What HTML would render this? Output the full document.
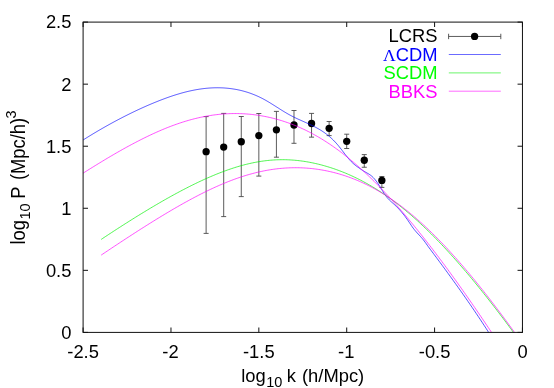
<!DOCTYPE html>
<html><head><meta charset="utf-8"><title>Power spectrum</title>
<style>
html,body{margin:0;padding:0;background:#fff;}
body{width:554px;height:388px;overflow:hidden;font-family:"Liberation Sans",sans-serif;}
svg{display:block;will-change:transform;}
</style></head><body>
<svg width="554" height="388" viewBox="0 0 554 388">
<rect width="554" height="388" fill="#fff"/>
<path fill="none" stroke="#4a4a4a" stroke-width="0.9" d="M206.12 116.60 V233.40 M203.62 116.60 H208.62 M203.62 233.40 H208.62 M223.69 113.40 V216.60 M221.19 113.40 H226.19 M221.19 216.60 H226.19 M241.27 116.50 V196.60 M238.77 116.50 H243.77 M238.77 196.60 H243.77 M258.84 113.50 V176.10 M256.34 113.50 H261.34 M256.34 176.10 H261.34 M276.41 111.40 V157.20 M273.91 111.40 H278.91 M273.91 157.20 H278.91 M293.99 110.50 V143.30 M291.49 110.50 H296.49 M291.49 143.30 H296.49 M311.56 113.40 V137.15 M309.06 113.40 H314.06 M309.06 137.15 H314.06 M329.14 121.50 V135.60 M326.64 121.50 H331.64 M326.64 135.60 H331.64 M346.71 134.20 V148.50 M344.21 134.20 H349.21 M344.21 148.50 H349.21 M364.28 154.60 V167.25 M361.78 154.60 H366.78 M361.78 167.25 H366.78 M381.86 176.50 V187.40 M379.36 176.50 H384.36 M379.36 187.40 H384.36 M448.60 36.45 H500.80 M448.60 33.75 V39.15 M500.80 33.75 V39.15"/>
<circle cx="206.12" cy="151.65" r="3.65" fill="#000"/>
<circle cx="223.69" cy="147.05" r="3.65" fill="#000"/>
<circle cx="241.27" cy="141.75" r="3.65" fill="#000"/>
<circle cx="258.84" cy="135.55" r="3.65" fill="#000"/>
<circle cx="276.41" cy="129.80" r="3.65" fill="#000"/>
<circle cx="293.99" cy="125.00" r="3.65" fill="#000"/>
<circle cx="311.56" cy="123.50" r="3.65" fill="#000"/>
<circle cx="329.14" cy="128.30" r="3.65" fill="#000"/>
<circle cx="346.71" cy="141.30" r="3.65" fill="#000"/>
<circle cx="364.28" cy="160.25" r="3.65" fill="#000"/>
<circle cx="381.86" cy="180.40" r="3.65" fill="#000"/>
<circle cx="474.6" cy="36.4" r="3.65" fill="#000"/>
<g fill="none" stroke-width="1.0" stroke-opacity="0.68" stroke-linejoin="round">
<path stroke="#0000ff" d="M83.25 139.88 L84.25 139.25 L85.25 138.63 L86.25 138.00 L87.25 137.38 L88.25 136.77 L89.25 136.15 L90.25 135.54 L91.25 134.93 L92.25 134.33 L93.25 133.72 L94.25 133.12 L95.25 132.53 L96.25 131.93 L97.25 131.34 L98.25 130.75 L99.25 130.17 L100.25 129.59 L101.25 129.01 L102.25 128.43 L103.25 127.86 L104.25 127.29 L105.25 126.72 L106.25 126.16 L107.25 125.60 L108.25 125.04 L109.25 124.48 L110.25 123.93 L111.25 123.38 L112.25 122.83 L113.25 122.29 L114.25 121.75 L115.25 121.21 L116.25 120.68 L117.25 120.15 L118.25 119.62 L119.25 119.09 L120.25 118.57 L121.25 118.05 L122.25 117.53 L123.25 117.02 L124.25 116.51 L125.25 116.00 L126.25 115.50 L127.25 115.00 L128.25 114.50 L129.25 114.00 L130.25 113.51 L131.25 113.02 L132.25 112.54 L133.25 112.05 L134.25 111.57 L135.25 111.10 L136.25 110.62 L137.25 110.15 L138.25 109.69 L139.25 109.23 L140.25 108.77 L141.25 108.31 L142.25 107.85 L143.25 107.40 L144.25 106.96 L145.25 106.51 L146.25 106.07 L147.25 105.64 L148.25 105.20 L149.25 104.77 L150.25 104.35 L151.25 103.92 L152.25 103.51 L153.25 103.09 L154.25 102.68 L155.25 102.27 L156.25 101.86 L157.25 101.46 L158.25 101.06 L159.25 100.67 L160.25 100.28 L161.25 99.89 L162.25 99.51 L163.25 99.13 L164.25 98.76 L165.25 98.39 L166.25 98.02 L167.25 97.66 L168.25 97.31 L169.25 96.95 L170.25 96.61 L171.25 96.27 L172.25 95.93 L173.25 95.60 L174.25 95.28 L175.25 94.96 L176.25 94.65 L177.25 94.34 L178.25 94.04 L179.25 93.74 L180.25 93.45 L181.25 93.17 L182.25 92.89 L183.25 92.62 L184.25 92.35 L185.25 92.09 L186.25 91.84 L187.25 91.59 L188.25 91.35 L189.25 91.12 L190.25 90.90 L191.25 90.68 L192.25 90.47 L193.25 90.27 L194.25 90.07 L195.25 89.88 L196.25 89.70 L197.25 89.52 L198.25 89.36 L199.25 89.20 L200.25 89.05 L201.25 88.91 L202.25 88.77 L203.25 88.65 L204.25 88.53 L205.25 88.42 L206.25 88.31 L207.25 88.22 L208.25 88.14 L209.25 88.06 L210.25 87.99 L211.25 87.93 L212.25 87.88 L213.25 87.84 L214.25 87.81 L215.25 87.78 L216.25 87.77 L217.25 87.76 L218.25 87.77 L219.25 87.78 L220.25 87.80 L221.25 87.83 L222.25 87.87 L223.25 87.92 L224.25 87.98 L225.25 88.05 L226.25 88.13 L227.25 88.22 L228.25 88.32 L229.25 88.43 L230.25 88.55 L231.25 88.68 L232.25 88.82 L233.25 88.97 L234.25 89.13 L235.25 89.30 L236.25 89.48 L237.25 89.67 L238.25 89.88 L239.25 90.09 L240.25 90.32 L241.25 90.56 L242.25 90.81 L243.25 91.07 L244.25 91.34 L245.25 91.63 L246.25 91.93 L247.25 92.23 L248.25 92.56 L249.25 92.89 L250.25 93.24 L251.25 93.60 L252.25 93.97 L253.25 94.36 L254.25 94.76 L255.25 95.17 L256.25 95.59 L257.25 96.03 L258.25 96.49 L259.25 96.95 L260.25 97.44 L261.25 97.93 L262.25 98.44 L263.25 98.96 L264.25 99.50 L265.25 100.05 L266.25 100.62 L267.25 101.20 L268.25 101.79 L269.25 102.38 L270.25 102.99 L271.25 103.61 L272.25 104.23 L273.25 104.86 L274.25 105.49 L275.25 106.12 L276.25 106.76 L277.25 107.39 L278.25 108.03 L279.25 108.67 L280.25 109.30 L281.25 109.93 L282.25 110.55 L283.25 111.17 L284.25 111.78 L285.25 112.39 L286.25 112.98 L287.25 113.56 L288.25 114.14 L289.25 114.69 L290.25 115.24 L291.25 115.77 L292.25 116.29 L293.25 116.79 L294.25 117.29 L295.25 117.77 L296.25 118.25 L297.25 118.72 L298.25 119.18 L299.25 119.63 L300.25 120.08 L301.25 120.53 L302.25 120.98 L303.25 121.42 L304.25 121.87 L305.25 122.32 L306.25 122.76 L307.25 123.22 L308.25 123.67 L309.25 124.14 L310.25 124.61 L311.25 125.08 L312.25 125.57 L313.25 126.07 L314.25 126.58 L315.25 127.10 L316.25 127.63 L317.25 128.18 L318.25 128.74 L319.25 129.33 L320.25 129.92 L321.25 130.54 L322.25 131.18 L323.25 131.85 L324.25 132.53 L325.25 133.25 L326.25 133.99 L327.25 134.75 L328.25 135.55 L329.25 136.38 L330.25 137.25 L331.25 138.14 L332.25 139.08 L333.25 140.05 L334.25 141.06 L335.25 142.12 L336.25 143.21 L337.25 144.35 L338.25 145.53 L339.25 146.76 L340.25 148.01 L341.25 149.29 L342.25 150.59 L343.25 151.90 L344.25 153.20 L345.25 154.50 L346.25 155.78 L347.25 157.03 L348.25 158.24 L349.25 159.42 L350.25 160.54 L351.25 161.61 L352.25 162.60 L353.25 163.53 L354.25 164.39 L355.25 165.20 L356.25 165.97 L357.25 166.70 L358.25 167.42 L359.25 168.11 L360.25 168.81 L361.25 169.49 L362.25 170.16 L363.25 170.80 L364.25 171.41 L365.25 171.99 L366.25 172.55 L367.25 173.11 L368.25 173.69 L369.25 174.31 L370.25 174.99 L371.25 175.76 L372.25 176.62 L373.25 177.60 L374.25 178.68 L375.25 179.87 L376.25 181.15 L377.25 182.52 L378.25 183.97 L379.25 185.50 L380.25 187.09 L381.25 188.72 L382.25 190.36 L383.25 191.98 L384.25 193.55 L385.25 195.05 L386.25 196.44 L387.25 197.70 L388.25 198.84 L389.25 199.88 L390.25 200.85 L391.25 201.77 L392.25 202.66 L393.25 203.54 L394.25 204.45 L395.25 205.38 L396.25 206.34 L397.25 207.34 L398.25 208.37 L399.25 209.44 L400.25 210.54 L401.25 211.68 L402.25 212.86 L403.25 214.09 L404.25 215.35 L405.25 216.67 L406.25 218.02 L407.25 219.43 L408.25 220.88 L409.25 222.38 L410.25 223.89 L411.25 225.38 L412.25 226.84 L413.25 228.22 L414.25 229.52 L415.25 230.74 L416.25 231.89 L417.25 233.00 L418.25 234.09 L419.25 235.17 L420.25 236.25 L421.25 237.36 L422.25 238.51 L423.25 239.72 L424.25 241.01 L425.25 242.38 L426.25 243.79 L427.25 245.22 L428.25 246.62 L429.25 247.98 L430.25 249.32 L431.25 250.65 L432.25 251.99 L433.25 253.32 L434.25 254.66 L435.25 256.01 L436.25 257.35 L437.25 258.70 L438.25 260.05 L439.25 261.40 L440.25 262.75 L441.25 264.10 L442.25 265.46 L443.25 266.82 L444.25 268.18 L445.25 269.54 L446.25 270.91 L447.25 272.28 L448.25 273.65 L449.25 275.02 L450.25 276.40 L451.25 277.78 L452.25 279.16 L453.25 280.55 L454.25 281.94 L455.25 283.33 L456.25 284.72 L457.25 286.12 L458.25 287.53 L459.25 288.93 L460.25 290.34 L461.25 291.76 L462.25 293.17 L463.25 294.60 L464.25 296.02 L465.25 297.45 L466.25 298.89 L467.25 300.33 L468.25 301.77 L469.25 303.22 L470.25 304.67 L471.25 306.13 L472.25 307.59 L473.25 309.06 L474.25 310.53 L475.25 312.01 L476.25 313.50 L477.25 314.98 L478.25 316.48 L479.25 317.98 L480.25 319.48 L481.25 321.00 L482.25 322.51 L483.25 324.04 L484.25 325.57 L485.25 327.10 L486.25 328.64 L487.25 330.19 L488.25 331.75 L488.70 332.45"/>
<path stroke="#00f000" d="M101.20 239.41 L102.70 238.41 L104.20 237.42 L105.70 236.43 L107.20 235.44 L108.70 234.45 L110.20 233.47 L111.70 232.49 L113.20 231.51 L114.70 230.53 L116.20 229.56 L117.70 228.59 L119.20 227.62 L120.70 226.66 L122.20 225.69 L123.70 224.73 L125.20 223.78 L126.70 222.83 L128.20 221.88 L129.70 220.93 L131.20 219.99 L132.70 219.05 L134.20 218.11 L135.70 217.17 L137.20 216.24 L138.70 215.32 L140.20 214.39 L141.70 213.47 L143.20 212.56 L144.70 211.65 L146.20 210.74 L147.70 209.83 L149.20 208.93 L150.70 208.03 L152.20 207.14 L153.70 206.25 L155.20 205.37 L156.70 204.49 L158.20 203.61 L159.70 202.74 L161.20 201.87 L162.70 201.01 L164.20 200.15 L165.70 199.30 L167.20 198.45 L168.70 197.61 L170.20 196.77 L171.70 195.94 L173.20 195.12 L174.70 194.30 L176.20 193.48 L177.70 192.67 L179.20 191.87 L180.70 191.07 L182.20 190.28 L183.70 189.49 L185.20 188.72 L186.70 187.94 L188.20 187.18 L189.70 186.42 L191.20 185.67 L192.70 184.92 L194.20 184.19 L195.70 183.46 L197.20 182.73 L198.70 182.02 L200.20 181.31 L201.70 180.61 L203.20 179.92 L204.70 179.24 L206.20 178.57 L207.70 177.90 L209.20 177.25 L210.70 176.60 L212.20 175.96 L213.70 175.33 L215.20 174.71 L216.70 174.10 L218.20 173.50 L219.70 172.91 L221.20 172.33 L222.70 171.77 L224.20 171.21 L225.70 170.66 L227.20 170.12 L228.70 169.59 L230.20 169.08 L231.70 168.58 L233.20 168.08 L234.70 167.61 L236.20 167.14 L237.70 166.68 L239.20 166.24 L240.70 165.81 L242.20 165.40 L243.70 164.99 L245.20 164.60 L246.70 164.23 L248.20 163.87 L249.70 163.52 L251.20 163.18 L252.70 162.86 L254.20 162.56 L255.70 162.27 L257.20 161.99 L258.70 161.73 L260.20 161.49 L261.70 161.26 L263.20 161.04 L264.70 160.84 L266.20 160.66 L267.70 160.49 L269.20 160.34 L270.70 160.20 L272.20 160.08 L273.70 159.97 L275.20 159.89 L276.70 159.81 L278.20 159.76 L279.70 159.72 L281.20 159.70 L282.70 159.69 L284.20 159.70 L285.70 159.73 L287.20 159.78 L288.70 159.83 L290.20 159.91 L291.70 160.00 L293.20 160.11 L294.70 160.23 L296.20 160.37 L297.70 160.52 L299.20 160.69 L300.70 160.88 L302.20 161.08 L303.70 161.29 L305.20 161.52 L306.70 161.77 L308.20 162.03 L309.70 162.31 L311.20 162.60 L312.70 162.90 L314.20 163.22 L315.70 163.55 L317.20 163.90 L318.70 164.26 L320.20 164.64 L321.70 165.03 L323.20 165.44 L324.70 165.86 L326.20 166.29 L327.70 166.74 L329.20 167.20 L330.70 167.67 L332.20 168.16 L333.70 168.67 L335.20 169.18 L336.70 169.72 L338.20 170.26 L339.70 170.82 L341.20 171.40 L342.70 171.99 L344.20 172.59 L345.70 173.21 L347.20 173.85 L348.70 174.49 L350.20 175.16 L351.70 175.83 L353.20 176.53 L354.70 177.24 L356.20 177.96 L357.70 178.70 L359.20 179.45 L360.70 180.22 L362.20 181.00 L363.70 181.80 L365.20 182.62 L366.70 183.45 L368.20 184.30 L369.70 185.16 L371.20 186.03 L372.70 186.93 L374.20 187.84 L375.70 188.76 L377.20 189.70 L378.70 190.66 L380.20 191.63 L381.70 192.62 L383.20 193.62 L384.70 194.64 L386.20 195.68 L387.70 196.73 L389.20 197.80 L390.70 198.88 L392.20 199.98 L393.70 201.09 L395.20 202.22 L396.70 203.37 L398.20 204.53 L399.70 205.71 L401.20 206.90 L402.70 208.11 L404.20 209.33 L405.70 210.57 L407.20 211.83 L408.70 213.10 L410.20 214.38 L411.70 215.68 L413.20 217.00 L414.70 218.33 L416.20 219.67 L417.70 221.03 L419.20 222.40 L420.70 223.79 L422.20 225.19 L423.70 226.60 L425.20 228.03 L426.70 229.48 L428.20 230.94 L429.70 232.41 L431.20 233.89 L432.70 235.39 L434.20 236.90 L435.70 238.42 L437.20 239.96 L438.70 241.51 L440.20 243.07 L441.70 244.65 L443.20 246.24 L444.70 247.84 L446.20 249.45 L447.70 251.08 L449.20 252.71 L450.70 254.36 L452.20 256.02 L453.70 257.70 L455.20 259.38 L456.70 261.07 L458.20 262.78 L459.70 264.50 L461.20 266.23 L462.70 267.97 L464.20 269.72 L465.70 271.48 L467.20 273.25 L468.70 275.03 L470.20 276.82 L471.70 278.62 L473.20 280.43 L474.70 282.25 L476.20 284.09 L477.70 285.93 L479.20 287.78 L480.70 289.64 L482.20 291.51 L483.70 293.38 L485.20 295.27 L486.70 297.17 L488.20 299.07 L489.70 300.99 L491.20 302.91 L492.70 304.84 L494.20 306.78 L495.70 308.73 L497.20 310.68 L498.70 312.65 L500.20 314.62 L501.70 316.60 L503.20 318.59 L504.70 320.59 L506.20 322.59 L507.70 324.60 L509.20 326.62 L510.70 328.65 L512.20 330.68 L513.50 332.45"/>
<path stroke="#ff00ff" d="M83.25 173.09 L84.75 172.14 L86.25 171.19 L87.75 170.25 L89.25 169.31 L90.75 168.37 L92.25 167.44 L93.75 166.51 L95.25 165.58 L96.75 164.66 L98.25 163.74 L99.75 162.82 L101.25 161.91 L102.75 161.00 L104.25 160.10 L105.75 159.20 L107.25 158.31 L108.75 157.42 L110.25 156.53 L111.75 155.65 L113.25 154.77 L114.75 153.90 L116.25 153.03 L117.75 152.17 L119.25 151.32 L120.75 150.47 L122.25 149.62 L123.75 148.78 L125.25 147.95 L126.75 147.12 L128.25 146.30 L129.75 145.49 L131.25 144.68 L132.75 143.88 L134.25 143.09 L135.75 142.30 L137.25 141.52 L138.75 140.75 L140.25 139.98 L141.75 139.22 L143.25 138.47 L144.75 137.73 L146.25 137.00 L147.75 136.27 L149.25 135.55 L150.75 134.85 L152.25 134.15 L153.75 133.46 L155.25 132.77 L156.75 132.10 L158.25 131.44 L159.75 130.79 L161.25 130.14 L162.75 129.51 L164.25 128.89 L165.75 128.28 L167.25 127.67 L168.75 127.08 L170.25 126.50 L171.75 125.93 L173.25 125.38 L174.75 124.83 L176.25 124.29 L177.75 123.77 L179.25 123.26 L180.75 122.76 L182.25 122.27 L183.75 121.79 L185.25 121.33 L186.75 120.88 L188.25 120.44 L189.75 120.01 L191.25 119.60 L192.75 119.20 L194.25 118.81 L195.75 118.44 L197.25 118.08 L198.75 117.73 L200.25 117.40 L201.75 117.08 L203.25 116.77 L204.75 116.48 L206.25 116.20 L207.75 115.93 L209.25 115.68 L210.75 115.44 L212.25 115.21 L213.75 115.00 L215.25 114.81 L216.75 114.63 L218.25 114.46 L219.75 114.30 L221.25 114.16 L222.75 114.04 L224.25 113.93 L225.75 113.83 L227.25 113.75 L228.75 113.68 L230.25 113.62 L231.75 113.59 L233.25 113.56 L234.75 113.55 L236.25 113.55 L237.75 113.57 L239.25 113.60 L240.75 113.65 L242.25 113.71 L243.75 113.79 L245.25 113.88 L246.75 113.99 L248.25 114.11 L249.75 114.24 L251.25 114.39 L252.75 114.56 L254.25 114.74 L255.75 114.93 L257.25 115.14 L258.75 115.37 L260.25 115.61 L261.75 115.86 L263.25 116.13 L264.75 116.41 L266.25 116.71 L267.75 117.03 L269.25 117.36 L270.75 117.70 L272.25 118.06 L273.75 118.44 L275.25 118.83 L276.75 119.24 L278.25 119.66 L279.75 120.10 L281.25 120.55 L282.75 121.02 L284.25 121.51 L285.75 122.01 L287.25 122.53 L288.75 123.06 L290.25 123.61 L291.75 124.18 L293.25 124.76 L294.75 125.36 L296.25 125.98 L297.75 126.61 L299.25 127.26 L300.75 127.93 L302.25 128.61 L303.75 129.31 L305.25 130.03 L306.75 130.76 L308.25 131.51 L309.75 132.28 L311.25 133.07 L312.75 133.87 L314.25 134.69 L315.75 135.52 L317.25 136.38 L318.75 137.25 L320.25 138.14 L321.75 139.05 L323.25 139.97 L324.75 140.91 L326.25 141.87 L327.75 142.85 L329.25 143.84 L330.75 144.85 L332.25 145.88 L333.75 146.92 L335.25 147.99 L336.75 149.07 L338.25 150.17 L339.75 151.28 L341.25 152.41 L342.75 153.56 L344.25 154.73 L345.75 155.91 L347.25 157.11 L348.75 158.33 L350.25 159.56 L351.75 160.81 L353.25 162.08 L354.75 163.36 L356.25 164.66 L357.75 165.98 L359.25 167.31 L360.75 168.66 L362.25 170.02 L363.75 171.40 L365.25 172.80 L366.75 174.21 L368.25 175.63 L369.75 177.08 L371.25 178.53 L372.75 180.00 L374.25 181.49 L375.75 182.99 L377.25 184.51 L378.75 186.04 L380.25 187.58 L381.75 189.14 L383.25 190.71 L384.75 192.30 L386.25 193.90 L387.75 195.51 L389.25 197.14 L390.75 198.78 L392.25 200.43 L393.75 202.10 L395.25 203.78 L396.75 205.47 L398.25 207.17 L399.75 208.89 L401.25 210.62 L402.75 212.36 L404.25 214.11 L405.75 215.87 L407.25 217.65 L408.75 219.44 L410.25 221.24 L411.75 223.05 L413.25 224.87 L414.75 226.70 L416.25 228.54 L417.75 230.39 L419.25 232.26 L420.75 234.13 L422.25 236.02 L423.75 237.91 L425.25 239.81 L426.75 241.73 L428.25 243.65 L429.75 245.59 L431.25 247.53 L432.75 249.48 L434.25 251.45 L435.75 253.42 L437.25 255.40 L438.75 257.39 L440.25 259.39 L441.75 261.39 L443.25 263.41 L444.75 265.43 L446.25 267.47 L447.75 269.51 L449.25 271.56 L450.75 273.62 L452.25 275.68 L453.75 277.76 L455.25 279.84 L456.75 281.93 L458.25 284.03 L459.75 286.13 L461.25 288.24 L462.75 290.36 L464.25 292.49 L465.75 294.63 L467.25 296.77 L468.75 298.92 L470.25 301.08 L471.75 303.24 L473.25 305.41 L474.75 307.59 L476.25 309.77 L477.75 311.96 L479.25 314.16 L480.75 316.36 L482.25 318.58 L483.75 320.79 L485.25 323.02 L486.75 325.25 L488.25 327.48 L489.75 329.73 L491.25 331.97 L491.57 332.45"/>
<path stroke="#ff00ff" d="M101.20 255.10 L102.70 254.10 L104.20 253.09 L105.70 252.09 L107.20 251.08 L108.70 250.08 L110.20 249.08 L111.70 248.09 L113.20 247.09 L114.70 246.09 L116.20 245.10 L117.70 244.11 L119.20 243.12 L120.70 242.13 L122.20 241.15 L123.70 240.16 L125.20 239.18 L126.70 238.20 L128.20 237.22 L129.70 236.25 L131.20 235.27 L132.70 234.30 L134.20 233.33 L135.70 232.37 L137.20 231.40 L138.70 230.44 L140.20 229.48 L141.70 228.53 L143.20 227.58 L144.70 226.63 L146.20 225.68 L147.70 224.73 L149.20 223.79 L150.70 222.85 L152.20 221.92 L153.70 220.99 L155.20 220.06 L156.70 219.14 L158.20 218.22 L159.70 217.30 L161.20 216.39 L162.70 215.48 L164.20 214.57 L165.70 213.67 L167.20 212.77 L168.70 211.88 L170.20 210.99 L171.70 210.11 L173.20 209.23 L174.70 208.36 L176.20 207.49 L177.70 206.63 L179.20 205.77 L180.70 204.92 L182.20 204.07 L183.70 203.23 L185.20 202.40 L186.70 201.57 L188.20 200.75 L189.70 199.93 L191.20 199.12 L192.70 198.32 L194.20 197.52 L195.70 196.73 L197.20 195.95 L198.70 195.17 L200.20 194.40 L201.70 193.64 L203.20 192.89 L204.70 192.15 L206.20 191.41 L207.70 190.68 L209.20 189.96 L210.70 189.25 L212.20 188.55 L213.70 187.85 L215.20 187.17 L216.70 186.49 L218.20 185.83 L219.70 185.17 L221.20 184.53 L222.70 183.89 L224.20 183.26 L225.70 182.65 L227.20 182.04 L228.70 181.45 L230.20 180.86 L231.70 180.29 L233.20 179.73 L234.70 179.18 L236.20 178.64 L237.70 178.11 L239.20 177.60 L240.70 177.09 L242.20 176.60 L243.70 176.12 L245.20 175.65 L246.70 175.20 L248.20 174.75 L249.70 174.32 L251.20 173.91 L252.70 173.50 L254.20 173.11 L255.70 172.73 L257.20 172.37 L258.70 172.01 L260.20 171.68 L261.70 171.35 L263.20 171.04 L264.70 170.74 L266.20 170.46 L267.70 170.19 L269.20 169.93 L270.70 169.69 L272.20 169.46 L273.70 169.24 L275.20 169.04 L276.70 168.85 L278.20 168.68 L279.70 168.52 L281.20 168.38 L282.70 168.25 L284.20 168.13 L285.70 168.03 L287.20 167.94 L288.70 167.87 L290.20 167.81 L291.70 167.77 L293.20 167.74 L294.70 167.72 L296.20 167.72 L297.70 167.73 L299.20 167.76 L300.70 167.80 L302.20 167.86 L303.70 167.93 L305.20 168.02 L306.70 168.12 L308.20 168.24 L309.70 168.37 L311.20 168.51 L312.70 168.67 L314.20 168.85 L315.70 169.04 L317.20 169.24 L318.70 169.46 L320.20 169.69 L321.70 169.94 L323.20 170.21 L324.70 170.49 L326.20 170.78 L327.70 171.09 L329.20 171.41 L330.70 171.75 L332.20 172.11 L333.70 172.48 L335.20 172.87 L336.70 173.27 L338.20 173.69 L339.70 174.12 L341.20 174.57 L342.70 175.03 L344.20 175.51 L345.70 176.01 L347.20 176.52 L348.70 177.05 L350.20 177.60 L351.70 178.16 L353.20 178.74 L354.70 179.33 L356.20 179.94 L357.70 180.57 L359.20 181.21 L360.70 181.87 L362.20 182.55 L363.70 183.25 L365.20 183.96 L366.70 184.68 L368.20 185.43 L369.70 186.19 L371.20 186.97 L372.70 187.77 L374.20 188.58 L375.70 189.41 L377.20 190.26 L378.70 191.13 L380.20 192.01 L381.70 192.91 L383.20 193.83 L384.70 194.76 L386.20 195.72 L387.70 196.69 L389.20 197.68 L390.70 198.68 L392.20 199.70 L393.70 200.74 L395.20 201.80 L396.70 202.87 L398.20 203.97 L399.70 205.08 L401.20 206.20 L402.70 207.35 L404.20 208.51 L405.70 209.68 L407.20 210.88 L408.70 212.09 L410.20 213.32 L411.70 214.56 L413.20 215.82 L414.70 217.10 L416.20 218.40 L417.70 219.71 L419.20 221.03 L420.70 222.38 L422.20 223.73 L423.70 225.11 L425.20 226.50 L426.70 227.91 L428.20 229.33 L429.70 230.76 L431.20 232.21 L432.70 233.68 L434.20 235.16 L435.70 236.66 L437.20 238.17 L438.70 239.70 L440.20 241.24 L441.70 242.79 L443.20 244.36 L444.70 245.94 L446.20 247.53 L447.70 249.14 L449.20 250.77 L450.70 252.40 L452.20 254.05 L453.70 255.71 L455.20 257.39 L456.70 259.07 L458.20 260.77 L459.70 262.49 L461.20 264.21 L462.70 265.95 L464.20 267.69 L465.70 269.45 L467.20 271.23 L468.70 273.01 L470.20 274.80 L471.70 276.61 L473.20 278.43 L474.70 280.26 L476.20 282.09 L477.70 283.94 L479.20 285.80 L480.70 287.67 L482.20 289.56 L483.70 291.45 L485.20 293.35 L486.70 295.26 L488.20 297.18 L489.70 299.11 L491.20 301.05 L492.70 303.00 L494.20 304.96 L495.70 306.93 L497.20 308.91 L498.70 310.89 L500.20 312.89 L501.70 314.89 L503.20 316.91 L504.70 318.93 L506.20 320.96 L507.70 323.00 L509.20 325.04 L510.70 327.10 L512.20 329.16 L513.70 331.23 L514.58 332.45"/>
</g>
<g fill="none" stroke-width="1" stroke-opacity="0.58">
<path stroke="#0000ff" d="M448.8 54.5 H500.8"/>
<path stroke="#00f000" d="M448.8 72.9 H500.8"/>
<path stroke="#ff00ff" d="M448.8 91.2 H500.8"/>
</g>
<rect x="83.10" y="22.10" width="439.35" height="310.30" fill="none" stroke="#111" stroke-width="1"/>
<path fill="none" stroke="#111" stroke-width="1" d="M83.10 332.40 V327.50 M83.10 22.10 V27.00 M83.10 332.40 H88.00 M522.45 332.40 H517.55 M170.97 332.40 V327.50 M170.97 22.10 V27.00 M83.10 270.34 H88.00 M522.45 270.34 H517.55 M258.84 332.40 V327.50 M258.84 22.10 V27.00 M83.10 208.28 H88.00 M522.45 208.28 H517.55 M346.71 332.40 V327.50 M346.71 22.10 V27.00 M83.10 146.22 H88.00 M522.45 146.22 H517.55 M434.58 332.40 V327.50 M434.58 22.10 V27.00 M83.10 84.16 H88.00 M522.45 84.16 H517.55 M522.45 332.40 V327.50 M522.45 22.10 V27.00 M83.10 22.10 H88.00 M522.45 22.10 H517.55"/>
<g font-family="'Liberation Sans', sans-serif" font-size="18.35" fill="#000">
<text x="71.4" y="338.7" text-anchor="end">0</text>
<text x="71.4" y="276.6" text-anchor="end">0.5</text>
<text x="71.4" y="214.6" text-anchor="end">1</text>
<text x="71.4" y="152.5" text-anchor="end">1.5</text>
<text x="71.4" y="90.5" text-anchor="end">2</text>
<text x="71.4" y="28.4" text-anchor="end">2.5</text>
<text x="83.1" y="357.9" text-anchor="middle">-2.5</text>
<text x="170.5" y="357.9" text-anchor="middle">-2</text>
<text x="258.8" y="357.9" text-anchor="middle">-1.5</text>
<text x="346.2" y="357.9" text-anchor="middle">-1</text>
<text x="434.6" y="357.9" text-anchor="middle">-0.5</text>
<text x="522.5" y="357.9" text-anchor="middle">0</text>
<text x="241.3" y="382.0">log</text>
<text x="266.2" y="387.2" font-size="14.5">10</text>
<text x="286.8" y="382.0">k</text>
<text x="302.0" y="382.0">(h/Mpc)</text>
<g transform="translate(24.7 244.5) rotate(-90) scale(1,1.07)">
<text x="0" y="0">log</text>
<text x="25" y="5.4" font-size="14.5">10</text>
<text x="45.8" y="0">P</text>
<text x="64.4" y="0">(Mpc/h)</text>
<text x="125.9" y="-8.3" font-size="14.5">3</text>
</g>
<text x="437.5" y="42.4" text-anchor="end">LCRS</text>
<text x="437.5" y="60.9" text-anchor="end" fill="#0000ff"><tspan font-family="'Liberation Serif', serif" font-size="17.5">Λ</tspan>CDM</text>
<text x="437.5" y="79.4" text-anchor="end" fill="#00ff00">SCDM</text>
<text x="437.5" y="97.8" text-anchor="end" fill="#ff00ff">BBKS</text>
</g>
</svg>
</body></html>
